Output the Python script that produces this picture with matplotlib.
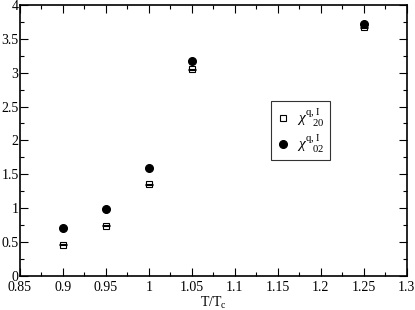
import matplotlib
matplotlib.use("Agg")
import matplotlib.pyplot as plt
from matplotlib.ticker import MultipleLocator, FuncFormatter
from matplotlib.lines import Line2D

plt.rcParams['font.family'] = ['Liberation Serif', 'DejaVu Serif']
plt.rcParams['mathtext.fontset'] = 'custom'
plt.rcParams['mathtext.rm'] = 'Liberation Serif'
plt.rcParams['mathtext.it'] = 'Liberation Serif:italic'

T = [0.9, 0.95, 1.0, 1.05, 1.25]
chi20 = [0.46, 0.74, 1.35, 3.05, 3.67]
chi20_err = [0.005, 0.005, 0.005, 0.005, 0.005]
chi02 = [0.70, 0.99, 1.59, 3.17, 3.72]
labels = [r'$\chi^{\mathrm{q,I}}_{\ \ \ \mathrm{20}}$', r'$\chi^{\mathrm{q,I}}_{\ \ \ \mathrm{02}}$']

fig = plt.figure(figsize=(4.15, 3.10), dpi=100)
ax = fig.add_axes([0.048, 0.11, 0.932, 0.874])

ax.errorbar(T, chi20, yerr=chi20_err, fmt='s', mfc='none', mec='black', mew=0.8,
            ms=4.5, ecolor='black', elinewidth=0.8, capsize=2.9, capthick=0.8, zorder=3)
ax.plot(T, chi02, 'o', color='black', ms=5.5, zorder=4)

ax.set_xlim(0.85, 1.3)
ax.set_ylim(0, 4)
ax.xaxis.set_major_locator(MultipleLocator(0.05))
ax.xaxis.set_minor_locator(MultipleLocator(0.025))
ax.yaxis.set_major_locator(MultipleLocator(0.5))
ax.yaxis.set_minor_locator(MultipleLocator(0.25))
fmt = FuncFormatter(lambda v, p: '%g' % round(v, 3))
ax.xaxis.set_major_formatter(fmt)
ax.yaxis.set_major_formatter(fmt)
ax.tick_params(which='both', direction='in', top=True, right=True, labelsize=10)
ax.tick_params(axis='y', pad=1)
ax.tick_params(axis='x', pad=4)
ax.tick_params(which='major', length=6, width=0.8)
ax.tick_params(which='minor', length=3, width=0.8)
for s in ax.spines.values():
    s.set_linewidth(1.2)
ax.set_xlabel(r'T/T$_{\rm c}$', fontsize=10, labelpad=0)

handles = [Line2D([], [], ls='none', marker='s', mfc='white', mec='black', mew=0.8, ms=4.5),
           Line2D([], [], ls='none', marker='o', color='black', ms=5.5)]
leg = ax.legend(handles, labels, loc='upper left', bbox_to_anchor=(0.65, 0.645),
                fontsize=11, frameon=True, fancybox=False, edgecolor='black',
                handlelength=0.8, handletextpad=0.5, borderpad=0.35, labelspacing=0.3,
                borderaxespad=0)
leg.get_frame().set_linewidth(0.8)

fig.savefig('out.png', dpi=100)
